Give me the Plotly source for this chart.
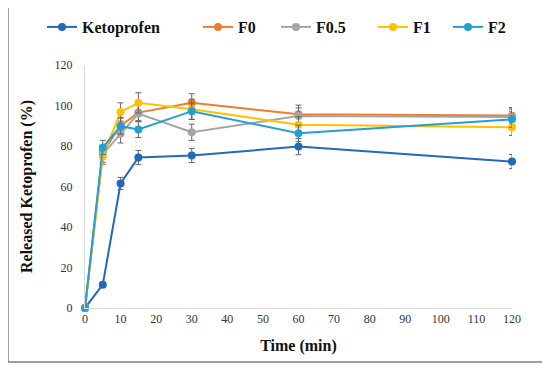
import plotly.graph_objects as go

time = [0, 5, 10, 15, 30, 60, 120]
series_names = ["Ketoprofen", "F0", "F0.5", "F1", "F2"]
ketoprofen = [0, 11.5, 61.5, 74.3, 75.3, 79.7, 72.3]
ketoprofen_err = [0, 1.0, 3.0, 3.5, 3.5, 4.0, 3.5]
f0 = [0, 77.0, 90.0, 96.5, 101.3, 95.7, 95.0]
f0_err = [0, 3.0, 4.0, 4.0, 4.5, 4.5, 4.0]
f05 = [0, 76.0, 86.0, 96.0, 86.8, 94.8, 94.3]
f05_err = [0, 4.0, 4.5, 4.0, 4.0, 4.0, 4.0]
f1 = [0, 75.0, 96.8, 101.3, 98.1, 90.5, 89.2]
f1_err = [0, 4.0, 4.5, 5.0, 5.0, 4.0, 4.0]
f2 = [0, 79.3, 89.8, 88.2, 97.2, 86.3, 93.2]
f2_err = [0, 3.5, 4.0, 4.0, 4.0, 4.0, 4.0]

values = [ketoprofen, f0, f05, f1, f2]
errors = [ketoprofen_err, f0_err, f05_err, f1_err, f2_err]
colors = ["#2468B8", "#ED7D31", "#A5A5A5", "#FFC000", "#22A0D5"]

FONT = "Liberation Serif"

# page body has an 8px margin; figure sized to fit the remaining window
W, H = 542, 363
L, T = 77, 57
PW, PH = 427, 243
PLOT_LEFT_PX = 85   # on screen
PLOT_BOTTOM_PX = 308

legend_ids = ["legend", "legend2", "legend3", "legend4", "legend5"]
legend_line_start_px = [47, 203, 281, 378, 453]

fig = go.Figure()
for name, lid, y, e, c in zip(series_names, legend_ids, values, errors, colors):
    fig.add_trace(go.Scatter(
        x=time, y=y, name=name, mode="lines+markers", legend=lid,
        line=dict(color=c, width=2),
        marker=dict(color=c, size=8),
        error_y=dict(type="data", array=e, visible=True, color="#666666",
                     thickness=1, width=3),
        cliponaxis=False,
    ))

legends = {}
for lid, px in zip(legend_ids, legend_line_start_px):
    legends[lid] = dict(
        orientation="h", x=(px - 5 - PLOT_LEFT_PX) / PW, xanchor="left",
        y=(PLOT_BOTTOM_PX - 27) / PH, yanchor="middle",
        font=dict(family=FONT, size=16, color="#111111", weight="bold"),
        itemwidth=30, bgcolor="rgba(0,0,0,0)", borderwidth=0,
    )

fig.update_layout(
    width=W, height=H,
    margin=dict(l=L, r=W - L - PW, t=T, b=H - T - PH, autoexpand=False),
    paper_bgcolor="white", plot_bgcolor="white",
    font=dict(family=FONT, size=12, color="#333333"),
    showlegend=True,
    xaxis=dict(range=[0, 120], tickmode="linear", tick0=0, dtick=10,
               showgrid=False, zeroline=False, showline=True,
               linecolor="#D9D9D9", linewidth=1, ticks="",
               tickfont=dict(family=FONT, size=12, color="#333333"),
               title=dict(text="Time (min)", standoff=14,
                          font=dict(family=FONT, size=16, color="#111111", weight="bold"))),
    yaxis=dict(range=[0, 120], tickmode="linear", tick0=0, dtick=20,
               showgrid=False, zeroline=False, showline=True,
               linecolor="#D9D9D9", linewidth=1, ticks="",
               ticklabelstandoff=9,
               tickfont=dict(family=FONT, size=12, color="#333333"),
               title=dict(text="Released Ketoprofen (%)", standoff=17,
                          font=dict(family=FONT, size=16, color="#111111", weight="bold"))),
    shapes=[dict(type="rect", xref="paper", yref="paper",
                 x0=(8 - 85) / 427, x1=(545 - 85) / 427,
                 y0=(308 - 362) / 243, y1=(308 - 6) / 243,
                 line=dict(color="#7F7F7F", width=1.5), layer="below")],
    **legends,
)

fig.write_html("out.html")
